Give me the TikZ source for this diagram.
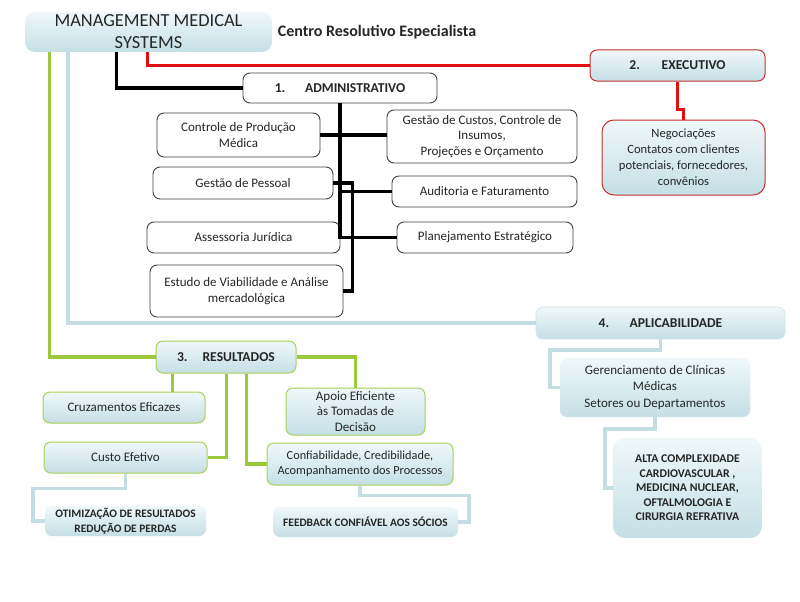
\documentclass[tikz,border=0pt]{standalone}
\usepackage{fontspec}
\setmainfont{Carlito}
\usetikzlibrary{calc}
\definecolor{lb1}{HTML}{F0F8FA}
\definecolor{lb2}{HTML}{C4DFE5}
\definecolor{gline}{HTML}{9CC83C}
\definecolor{bline}{HTML}{C4DDE3}
\definecolor{rline}{HTML}{E01010}
\definecolor{gbord}{HTML}{A8D058}
\definecolor{rbord}{HTML}{C83030}
\tikzset{
  base/.style={align=center, inner sep=2pt, text=black!85, font=\fontsize{13}{15.5}\selectfont},
  wbox/.style={base, draw=black!75, fill=white, rounded corners=7pt, line width=0.9pt},
  bbox/.style={base, top color=lb1, bottom color=lb2, rounded corners=7pt, draw=bline!80, line width=0.6pt},
  gbox/.style={bbox, draw=gbord, line width=1pt},
  rbox/.style={bbox, draw=rbord, line width=1pt},
  hdr/.style={font=\fontsize{13.6}{15}\selectfont\bfseries},
  small/.style={font=\fontsize{11.4}{15}\selectfont\bfseries},
  blk/.style={line width=3.4pt, black},
  red/.style={line width=3pt, rline},
  grn/.style={line width=3.3pt, gline},
  blu/.style={line width=3.8pt, bline},
}
\begin{document}
\begin{tikzpicture}[x=1pt,y=-1pt]
\useasboundingbox[fill=white] (0,0) rectangle (800,602);

% main boxes
\node[bbox, draw=none, rounded corners=10pt, minimum width=247, minimum height=40,
      font=\fontsize{18.4}{22}\selectfont] (mms) at (148.5,32) {MANAGEMENT MEDICAL\\SYSTEMS};
\node[font=\fontsize{16}{18}\selectfont\bfseries, text=black!85] (cre) at (377,32) {Centro Resolutivo Especialista};

\node[rbox, hdr, minimum width=175, minimum height=31] (exe) at (677.5,65.5) {2.\hspace{1.6em}EXECUTIVO};
\node[rbox, rounded corners=12pt, minimum width=163, minimum height=75, font=\fontsize{12.6}{16}\selectfont] (neg) at (683.5,157.5)
  {Negociações\\Contatos com clientes\\potenciais, fornecedores,\\convênios};

\node[wbox, hdr, minimum width=194, minimum height=30] (adm) at (340,88) {1.\hspace{1.45em}ADMINISTRATIVO};

\node[wbox, minimum width=163, minimum height=44] (ctrl) at (238.5,135) {Controle de Produção\\Médica};
\node[wbox, minimum width=190, minimum height=53] (gc) at (482,136.5) {Gestão de Custos, Controle de\\Insumos,\\Projeções e Orçamento};
\node[wbox, minimum width=180, minimum height=32] (gp) at (243,183) {Gestão de Pessoal};
\node[wbox, minimum width=185, minimum height=31] (aud) at (484.5,191.5) {Auditoria e Faturamento};
\node[wbox, minimum width=193, minimum height=31] (ass) at (243.5,237.5) {Assessoria Jurídica};
\node[wbox, minimum width=176, minimum height=31] (plan) at (485,237.5) {Planejamento Estratégico};
\node[wbox, minimum width=193, minimum height=52] (est) at (246.5,291) {Estudo de Viabilidade e Análise\\mercadológica};

\node[bbox, hdr, minimum width=249, minimum height=32] (apl) at (660.5,323) {4.\hspace{1.5em}APLICABILIDADE};
\node[bbox, draw=none, minimum width=190, minimum height=59, font=\fontsize{13}{16.5}\selectfont] (ger) at (655,387.5) {Gerenciamento de Clínicas\\Médicas\\Setores ou Departamentos};
\node[bbox, draw=none, rounded corners=12pt, minimum width=149, minimum height=100, font=\fontsize{11.8}{14.5}\selectfont\bfseries] (alta) at (687.5,488)
  {ALTA COMPLEXIDADE\\CARDIOVASCULAR ,\\MEDICINA NUCLEAR,\\OFTALMOLOGIA  E\\CIRURGIA REFRATIVA};

\node[gbox, hdr, minimum width=140, minimum height=32] (res) at (226,357) {3.\hspace{1.1em}RESULTADOS};
\node[gbox, minimum width=162, minimum height=31] (cruz) at (124,407.5) {Cruzamentos Eficazes};
\node[gbox, minimum width=139, minimum height=47] (apo) at (355.5,411.5) {Apoio Eficiente\\às Tomadas de\\Decisão};
\node[gbox, minimum width=163, minimum height=31] (cus) at (125.5,457.5) {Custo Efetivo};
\node[gbox, minimum width=186, minimum height=42, font=\fontsize{12.3}{15}\selectfont] (conf) at (360,464) {Confiabilidade, Credibilidade,\\Acompanhamento dos Processos};
\node[bbox, draw=none, small, minimum width=161, minimum height=30] (oti) at (125.5,521) {OTIMIZAÇÃO DE RESULTADOS\\REDUÇÃO DE PERDAS};
\node[bbox, draw=none, small, minimum width=185, minimum height=30] (fee) at (365.5,522) {FEEDBACK CONFIÁVEL AOS SÓCIOS};

% helper coordinates
\coordinate (mr) at ($(mms.south west)+(123,0)$);
\coordinate (mk) at ($(mms.south west)+(92,0)$);
\coordinate (mb) at ($(mms.south west)+(43,0)$);
\coordinate (mg) at ($(mms.south west)+(25,0)$);
\coordinate (r1) at ($(res.south west)+(17,0)$);
\coordinate (r2) at ($(res.south west)+(71,0)$);
\coordinate (r3) at ($(res.south west)+(91,0)$);
\coordinate (gpx) at ($(gp.east)+(19,0)$);
\coordinate (ax) at ($(ger.west)+(-10,0)$);
\coordinate (bx) at ($(alta.west)+(-8,0)$);
\coordinate (ox) at ($(oti.west)+(-12,0)$);
\coordinate (fx) at ($(fee.east)+(11,0)$);

% connectors
\draw[red] (mr) |- (exe.west);
\draw[red] (exe.south) -- ++(0,28) -| (neg.north);

\draw[blk] (mk) |- (adm.west);
\draw[blk] (adm.south) -- (adm.south |- plan.west) -- (plan.west);
\draw[blk] (ctrl.east) -- (ctrl.east -| gc.west);
\draw[blk] (adm.south |- aud.west) -- (aud.west);
\draw[blk] (gp.east) -- (gpx) |- (est.east);

\draw[blu] (mb) |- (apl.west);
\draw[blu] (apl.south) -- ++(0,11) -| (ax) -- (ger.west);
\draw[blu] (ger.south) -- ++(0,12) -| (bx) -- (alta.west);
\draw[blu] (cus.south) -- ++(0,15) -| (ox) -- (oti.west);
\draw[blu] (conf.south) -- ++(0,10) -| (fx) -- (fee.east);

\draw[grn] (mg) |- (res.west);
\draw[grn] (res.east) -| (apo.north);
\draw[grn] (r1) -- (r1 |- cruz.north);
\draw[grn] (r2) |- (cus.east);
\draw[grn] (r3) |- (conf.west);
\end{tikzpicture}
\end{document}
